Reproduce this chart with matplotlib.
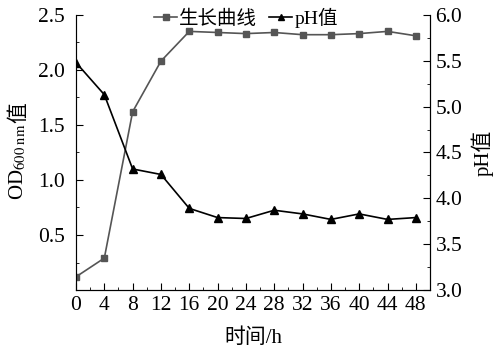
import matplotlib
matplotlib.use("Agg")

import matplotlib.pyplot as plt
from matplotlib.ticker import MultipleLocator

plt.rcParams['font.family'] = ['Liberation Serif', 'Noto Sans CJK SC']
plt.rcParams['mathtext.fontset'] = 'stix'

hours = [0, 4, 8, 12, 16, 20, 24, 28, 32, 36, 40, 44, 48]
od600 = [0.12, 0.29, 1.62, 2.08, 2.35, 2.34, 2.33, 2.34, 2.32, 2.32, 2.33, 2.35, 2.31]
ph = [5.48, 5.13, 4.32, 4.26, 3.89, 3.79, 3.78, 3.87, 3.83, 3.77, 3.83, 3.77, 3.79]

fig = plt.figure(figsize=(5.0, 3.63), dpi=100)
ax = fig.add_axes([0.152, 0.201, 0.708, 0.758])
ax2 = ax.twinx()

l1, = ax.plot(hours, od600, color="#555555", marker="s", markersize=5, lw=1.2,
              label="生长曲线")
l2, = ax2.plot(hours, ph, color="black", marker="^", markersize=6, lw=1.2,
               label="pH值")

ax.set_xlim(0, 50)
ax.set_ylim(0, 2.5)
ax2.set_ylim(3.0, 6.0)

ax.xaxis.set_major_locator(MultipleLocator(4))
ax.xaxis.set_minor_locator(MultipleLocator(2))
ax.yaxis.set_minor_locator(MultipleLocator(0.25))
ax2.yaxis.set_major_locator(MultipleLocator(0.5))
ax2.yaxis.set_minor_locator(MultipleLocator(0.25))

ax.set_yticks([0.5, 1.0, 1.5, 2.0, 2.5])
ax.set_yticklabels(["0.5", "1.0", "1.5", "2.0", "2.5"])

for a in (ax, ax2):
    a.spines["top"].set_visible(False)
    a.tick_params(which="both", direction="in", labelsize=15.5)
    a.tick_params(which="major", length=5)
    a.tick_params(which="minor", length=2.5)
ax.spines["left"].set_color("#666666")
ax.tick_params(axis="y", pad=8)
ax.tick_params(axis="x", pad=4)
ax2.tick_params(axis="y", pad=4)

ax.set_xlabel("时间/h", fontsize=15, labelpad=10)
ax2.set_ylabel("pH值", fontsize=15, labelpad=6)

# y label: mathtext part and the CJK character drawn separately
t_od = fig.text(0.036, 1 - 200 / 363, "OD$_{\\mathrm{600\\ nm}}$", rotation=90,
                ha="center", va="bottom", fontsize=15)
fig.canvas.draw()
bb = t_od.get_window_extent().transformed(fig.transFigure.inverted())
fig.text(0.036, bb.y1, "值", rotation=90, ha="center", va="bottom",
         fontsize=15, family="Noto Sans CJK SC")

ax.legend(handles=[l1, l2], loc="upper center", bbox_to_anchor=(0.48, 1.09),
          ncol=2, frameon=False, fontsize=14, handlelength=1.2,
          handletextpad=0.1, columnspacing=0.6, markerscale=0.8)

plt.savefig("out.png", dpi=100)
plt.close(fig)
